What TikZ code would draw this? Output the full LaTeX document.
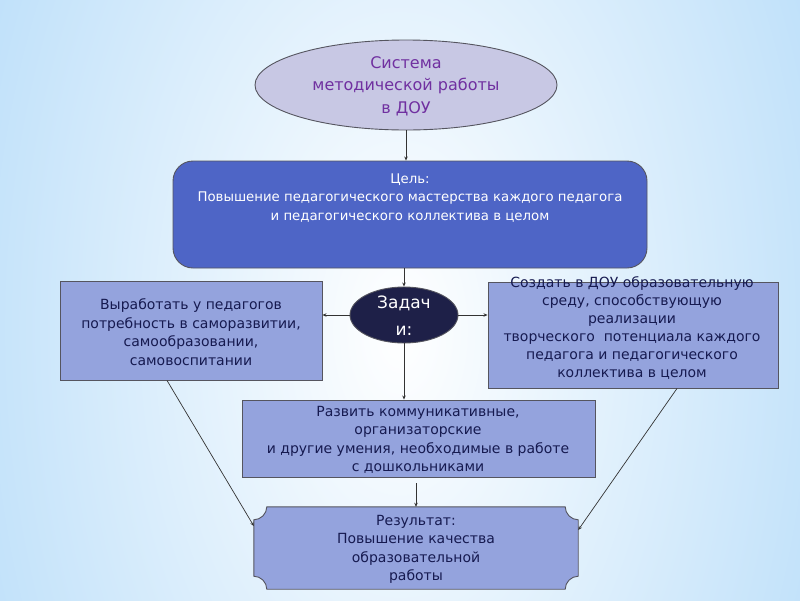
\documentclass[tikz,border=0pt]{standalone}
\usepackage{fontspec}
\setmainfont{DejaVu Sans}
\usetikzlibrary{shapes.geometric,arrows.meta,calc}
\definecolor{bgblue}{RGB}{140,200,245}
\definecolor{lav}{RGB}{200,200,228}
\definecolor{purp}{RGB}{112,48,160}
\definecolor{goalblue}{RGB}{78,101,198}
\definecolor{boxfill}{RGB}{148,163,221}
\definecolor{navy}{RGB}{22,26,80}
\definecolor{zadfill}{RGB}{30,32,72}
\definecolor{edge}{RGB}{85,85,95}
\tikzset{
  boxsty/.style={draw=edge, line width=0.9pt, fill=boxfill, inner sep=0pt},
  btxt/.style={text=navy, align=center, inner sep=0pt, font=\fontsize{14}{18.5}\selectfont},
  arr/.style={draw=black!80, line width=0.7pt, -{Stealth[length=4pt,width=3.5pt]}},
}
\begin{document}
\begin{tikzpicture}[x=1pt,y=-1pt]
\useasboundingbox (0,0) rectangle (800,600);
\fill[bgblue] (0,0) rectangle (800,600);
\begin{scope}
\clip (0,0) rectangle (800,600);
\shade[inner color=white, outer color=bgblue] (400,330) ellipse [x radius=820, y radius=1400];
\end{scope}

% top ellipse
\node[ellipse, draw=edge, line width=0.9pt, fill=lav, minimum width=302pt, minimum height=90pt, inner sep=0pt] (sys) at (406,85) {};
\node[text=purp, align=center, inner sep=0pt, font=\fontsize{16}{22.5}\selectfont] (systxt) at (406,86) {Система\\методической работы\\в ДОУ};

% goal box
\node[draw=edge, line width=0.9pt, fill=goalblue, rounded corners=20pt, minimum width=474pt, minimum height=107pt, inner sep=0pt] (goal) at (410,214.5) {};
\node[text=white, align=center, inner sep=0pt, font=\fontsize{13.3}{18.5}\selectfont] (goaltxt) at (410,198) {Цель:\\Повышение педагогического мастерства каждого педагога\\и педагогического коллектива в целом};

% tasks ellipse
\node[ellipse, draw=edge, line width=0.9pt, fill=zadfill, minimum width=108pt, minimum height=56pt, inner sep=0pt] (zad) at (404,315) {};
\node[text=white, align=center, inner sep=0pt, font=\fontsize{17}{27}\selectfont] (zadtxt) at (404,316) {Задач\\и:};

% left box
\node[boxsty, minimum width=262pt, minimum height=99pt] (lb) at (191,330.5) {};
\node[btxt] (lbtxt) at (191,332) {Выработать у педагогов\\потребность в саморазвитии,\\самообразовании,\\самовоспитании};

% right box
\node[boxsty, minimum width=290pt, minimum height=106pt] (rb) at (633,335) {};
\node[btxt, font=\fontsize{14}{18}\selectfont] (rbtxt) at (632,328.5) {Создать в ДОУ образовательную\\среду, способствующую\\реализации\\творческого\ \ потенциала каждого\\педагога и педагогического\\коллектива в целом};

% middle box
\node[boxsty, minimum width=353pt, minimum height=77pt] (mid) at (418.5,438.5) {};
\node[btxt] (midtxt) at (418,440) {Развить коммуникативные,\\организаторские\\и другие умения, необходимые в работе\\с дошкольниками};

% result plaque
\node[minimum width=324pt, minimum height=82pt, inner sep=0pt] (res) at (416,548) {};
\draw[draw=edge, line width=0.9pt, fill=boxfill]
  ($(res.north west)+(13,0)$) -- ($(res.north east)+(-13,0)$)
  .. controls ($(res.north east)+(-13,7)$) and ($(res.north east)+(-7,13)$) .. ($(res.north east)+(0,13)$)
  -- ($(res.south east)+(0,-13)$)
  .. controls ($(res.south east)+(-7,-13)$) and ($(res.south east)+(-13,-7)$) .. ($(res.south east)+(-13,0)$)
  -- ($(res.south west)+(13,0)$)
  .. controls ($(res.south west)+(13,-7)$) and ($(res.south west)+(7,-13)$) .. ($(res.south west)+(0,-13)$)
  -- ($(res.north west)+(0,13)$)
  .. controls ($(res.north west)+(7,13)$) and ($(res.north west)+(13,7)$) .. ($(res.north west)+(13,0)$) -- cycle;
\node[btxt] (restxt) at (416,549.5) {Результат:\\Повышение качества\\образовательной\\работы};

% connectors
\draw[arr] (sys.south) -- (sys.south |- goal.north);
\draw[arr] (goal.south -| zad.north) -- (zad.north);
\draw[arr] (zad.west) -- (zad.west -| lb.east);
\draw[arr] (zad.east) -- (zad.east -| rb.west);
\draw[arr] (zad.south) -- (zad.south |- mid.north);
\draw[arr] ($(mid.south -| res.north)+(0,6)$) -- (res.north);
\draw[arr] ([xshift=-24pt]lb.south) -- ([yshift=22pt]res.west);
\draw[arr] ([xshift=44pt]rb.south) -- ([yshift=18pt]res.east);
\end{tikzpicture}
\end{document}
